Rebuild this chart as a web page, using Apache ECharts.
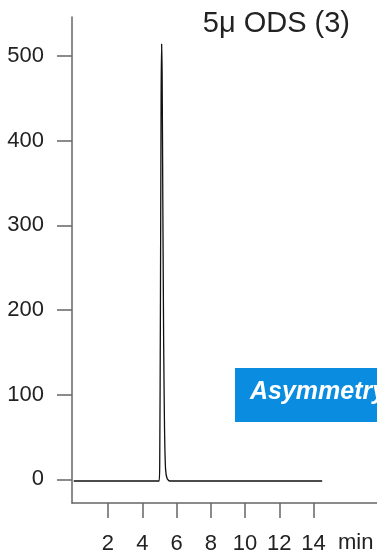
<!DOCTYPE html>
<html>
<head>
<meta charset="utf-8">
<script src="https://cdn.jsdelivr.net/npm/echarts@6/dist/echarts.min.js"></script>
<style>
  html, body { margin: 0; padding: 0; background: #fff; }
  #chart { width: 377px; height: 550px; }
</style>
</head>
<body>
<div id="chart"></div>
<script>
// chromatogram trace, time in min / response
const times = [0, 4.98, 5.02, 5.06, 5.1, 5.13, 5.16, 5.2, 5.25, 5.3, 5.36, 5.45, 5.6, 14.5]
const signal = [-2, -2, 20, 200, 450, 514, 480, 330, 160, 60, 12, 1, -2, -2]
const xTicks = [2, 4, 6, 8, 10, 12, 14]
const yTicks = [0, 100, 200, 300, 400, 500]

const chart = echarts.init(document.getElementById('chart'))
const axisColor = '#666'
const font = 'Liberation Sans, Arial, sans-serif'

chart.setOption({
  animation: false,
  grid: { left: 72, top: 17, right: 0, bottom: 47, containLabel: false, outerBoundsMode: 'none' },
  xAxis: {
    type: 'value', min: -0.1, max: 17.7,
    splitLine: { show: false },
    axisLine: { onZero: false, lineStyle: { color: axisColor, width: 1.5 } },
    axisTick: { customValues: xTicks, length: 15, lineStyle: { color: axisColor, width: 1.5 } },
    axisLabel: { customValues: xTicks, margin: 30, fontSize: 22, color: '#222', fontFamily: font }
  },
  yAxis: {
    type: 'value', min: -28, max: 546,
    splitLine: { show: false },
    axisLine: { show: true, onZero: false, lineStyle: { color: axisColor, width: 1.5 } },
    axisTick: { show: true, customValues: yTicks, length: 15, lineStyle: { color: axisColor, width: 1.5 } },
    axisLabel: { customValues: yTicks, margin: 28, fontSize: 22, color: '#222', fontFamily: font }
  },
  graphic: [
    { type: 'text', right: 27, top: 9, style: { text: '5\u03bc ODS (3)', fontSize: 29, fill: '#222', fontFamily: font } },
    { type: 'text', left: 338, top: 532, style: { text: 'min', fontSize: 22, fill: '#222', fontFamily: font } },
    { type: 'rect', shape: { x: 235, y: 368, width: 160, height: 54 }, style: { fill: '#0a8ce0' } },
    { type: 'text', x: 250, y: 380, style: { text: 'Asymmetry', fontSize: 25, fontWeight: 'bold', fontStyle: 'italic', fill: '#fff', fontFamily: font } }
  ],
  series: [{
    type: 'line',
    data: times.map((t, i) => [t, signal[i]]),
    showSymbol: false,
    smooth: 0.2,
    lineStyle: { color: '#111', width: 1.3 }
  }]
})
</script>
</body>
</html>
